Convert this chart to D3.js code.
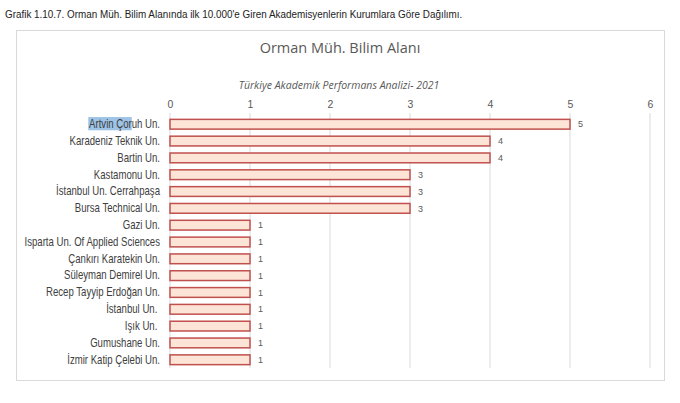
<!DOCTYPE html>
<html>
<head>
<meta charset="utf-8">
<script src="https://cdn.jsdelivr.net/npm/d3@7"></script>
<style>
  body { margin: 0; background: #fff; }
</style>
</head>
<body>
<div id="chart"></div>
<script>
// data
const universities = ["Artvin Çoruh Un.", "Karadeniz Teknik Un.", "Bartin Un.", "Kastamonu Un.",
  "İstanbul Un. Cerrahpaşa", "Bursa Technical Un.", "Gazi Un.", "Isparta Un. Of Applied Sciences",
  "Çankırı Karatekin Un.", "Süleyman Demirel Un.", "Recep Tayyip Erdoğan Un.", "İstanbul Un. ",
  "Işık Un. ", "Gumushane Un.", "İzmir Katip Çelebi Un."];
const counts = [5, 4, 4, 3, 3, 3, 1, 1, 1, 1, 1, 1, 1, 1, 1];
const xTicks = [0, 1, 2, 3, 4, 5, 6];

const W = 680, H = 403;
const margin = {top: 116, right: 30, bottom: 35, left: 170};
// no narrow font installed, so squeeze Liberation Sans horizontally
const narrow = 0.8;

const svg = d3.select("#chart")
  .append("svg")
  .attr("width", W)
  .attr("height", H);

// caption above the chart
svg.append("text")
  .attr("transform", "translate(5,18) scale(0.86,1)")
  .attr("font-family", "'Liberation Sans', Arial, sans-serif")
  .attr("font-size", "11.5px")
  .attr("fill", "#222")
  .text("Grafik 1.10.7.  Orman Müh.  Bilim Alanında ilk 10.000'e Giren Akademisyenlerin Kurumlara Göre Dağılımı.");

// chart frame
svg.append("rect")
  .attr("x", 16.5)
  .attr("y", 30.5)
  .attr("width", 648)
  .attr("height", 350)
  .attr("fill", "#fff")
  .attr("stroke", "#d9d9d9");

svg.append("text")
  .attr("x", 340)
  .attr("y", 53)
  .attr("text-anchor", "middle")
  .attr("font-family", "'Open Sans', sans-serif")
  .attr("font-size", "14.5px")
  .attr("fill", "#595959")
  .text("Orman Müh. Bilim Alanı");

svg.append("text")
  .attr("x", 339)
  .attr("y", 89)
  .attr("text-anchor", "middle")
  .attr("font-family", "'Open Sans', sans-serif")
  .attr("font-style", "italic")
  .attr("font-size", "10.5px")
  .attr("fill", "#595959")
  .text("Türkiye Akademik Performans Analizi- 2021");

const x = d3.scaleLinear()
  .domain([0, 6])
  .range([margin.left, margin.left + 480]);

const y = d3.scaleBand()
  .domain(universities)
  .range([margin.top, H - margin.bottom])
  .paddingInner(0.42)
  .paddingOuter(0.2);

// gridlines
svg.append("g")
  .selectAll("line")
  .data(xTicks)
  .join("line")
  .attr("x1", d => x(d))
  .attr("x2", d => x(d))
  .attr("y1", 113)
  .attr("y2", 368)
  .attr("stroke", "#d9d9d9")
  .attr("stroke-width", 1);

// top axis labels
const xAxis = svg.append("g")
  .attr("transform", "translate(0,108)")
  .call(d3.axisTop(x).tickValues(xTicks).tickFormat(d3.format("d")).tickSize(0).tickPadding(0));
xAxis.select(".domain").remove();
xAxis.selectAll("text")
  .attr("font-family", "'Liberation Sans', Arial, sans-serif")
  .attr("font-size", "10.5px")
  .attr("fill", "#595959");

// category labels
const yAxis = svg.append("g")
  .attr("transform", `translate(${margin.left - 10},0)`)
  .call(d3.axisLeft(y).tickSize(0).tickPadding(0));
yAxis.select(".domain").remove();
yAxis.selectAll("text")
  .attr("font-family", "'Liberation Sans', Arial, sans-serif")
  .attr("font-size", "12px")
  .attr("fill", "#404040")
  .attr("transform", `scale(${narrow},1)`)
  .style("white-space", "pre");

// text selection highlight on the first label ("Artvin Çor")
const firstLabel = yAxis.select(".tick text").node();
if (firstLabel) {
  const bb = firstLabel.getBBox();
  const selW = firstLabel.getSubStringLength(0, 10);
  yAxis.select(".tick").insert("rect", "text")
    .attr("transform", `scale(${narrow},1)`)
    .attr("x", bb.x - 1)
    .attr("y", bb.y)
    .attr("width", selW + 1)
    .attr("height", bb.height)
    .attr("fill", "#9dc3e6");
}

// bars
svg.append("g")
  .selectAll("rect")
  .data(universities)
  .join("rect")
  .attr("x", x(0))
  .attr("y", d => y(d))
  .attr("width", (d, i) => x(counts[i]) - x(0))
  .attr("height", y.bandwidth())
  .attr("fill", "#fce4d6")
  .attr("stroke", "#c0504d")
  .attr("stroke-width", 1.5);

// value labels
svg.append("g")
  .selectAll("text")
  .data(universities)
  .join("text")
  .attr("x", (d, i) => x(counts[i]) + 8)
  .attr("y", d => y(d) + y.bandwidth() / 2)
  .attr("dy", "0.35em")
  .attr("font-family", "'Liberation Sans', Arial, sans-serif")
  .attr("font-size", "9px")
  .attr("fill", "#595959")
  .text((d, i) => counts[i]);
</script>
</body>
</html>
